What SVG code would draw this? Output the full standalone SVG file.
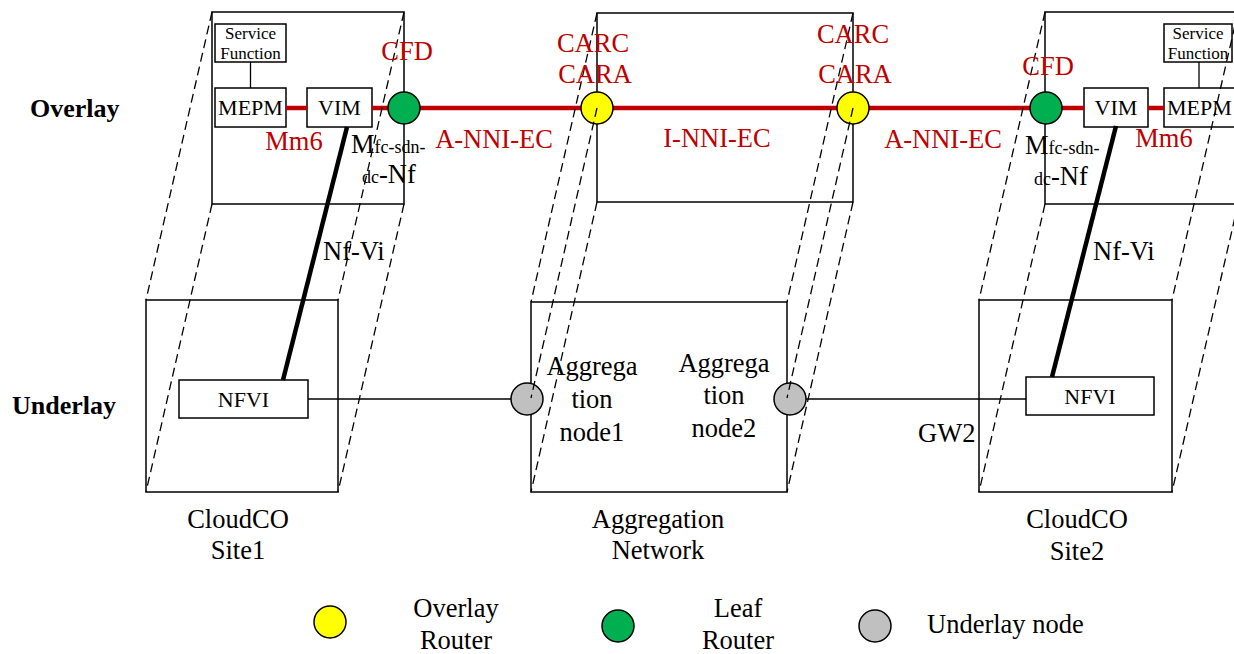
<svg xmlns="http://www.w3.org/2000/svg" width="1234" height="654" viewBox="0 0 1234 654">
<style>
  text { font-family: "Liberation Serif", "Times New Roman", serif; fill: #000; }
  .box { fill: none; stroke: #000; stroke-width: 1.5; }
  .ibox { fill: #fff; stroke: #000; stroke-width: 1.5; }
  .dash { fill: none; stroke: #000; stroke-width: 1.3; stroke-dasharray: 9 5; }
  .red { stroke: #C00000; stroke-width: 4.5; fill: none; }
  .thin { stroke: #000; stroke-width: 1.3; fill: none; }
  .thick { stroke: #000; stroke-width: 4.5; fill: none; }
  .big { font-size: 26.5px; }
  .mid { font-size: 22px; }
  .sm { font-size: 17px; }
  .sub { font-size: 18px; }
  .rtxt { fill: #C00000; font-size: 26.5px; }
  .bold { font-size: 26px; font-weight: bold; }
  .yel { fill: #FFFF00; stroke: #000; stroke-width: 1.5; }
  .grn { fill: #00B050; stroke: #000; stroke-width: 1.5; }
  .gry { fill: #C0C0C0; stroke: #000; stroke-width: 1.5; }
</style>

<text class="bold" x="30" y="117">Overlay</text>
<text class="bold" x="12" y="414">Underlay</text>

<!-- Site 1 -->
<g id="site1-overlay">
  <rect class="box" x="212" y="12" width="192" height="192"/>
</g>
<g id="site1-underlay">
  <rect class="box" x="146" y="300" width="192" height="192"/>
  <text class="big" x="238" y="528" text-anchor="middle">CloudCO</text>
  <text class="big" x="238" y="559" text-anchor="middle">Site1</text>
</g>
<g id="site1-sf">
  <rect class="ibox" x="215" y="24" width="71" height="38"/>
  <text class="sm" x="250.5" y="39" text-anchor="middle">Service</text>
  <text class="sm" x="250.5" y="59" text-anchor="middle">Function</text>
</g>
<g id="site1-mepm">
  <rect class="ibox" x="215" y="88" width="71" height="39"/>
  <text class="mid" x="250.5" y="115" text-anchor="middle">MEPM</text>
</g>
<g id="site1-vim">
  <rect class="ibox" x="307" y="88" width="65" height="39"/>
  <text class="mid" x="339.5" y="115" text-anchor="middle">VIM</text>
</g>
<g id="site1-nfvi">
  <rect class="ibox" x="179" y="380" width="129" height="38"/>
  <text class="mid" x="243.5" y="407" text-anchor="middle">NFVI</text>
</g>

<!-- Aggregation network -->
<g id="agg-overlay">
  <rect class="box" x="597" y="13" width="256" height="189"/>
</g>
<g id="agg-underlay">
  <rect class="box" x="531" y="302" width="256" height="190"/>
  <text class="big" x="658" y="528" text-anchor="middle">Aggregation</text>
  <text class="big" x="658" y="559" text-anchor="middle">Network</text>
</g>
<g id="agg-node1">
  <text class="big" x="592" y="375" text-anchor="middle">Aggrega</text>
  <text class="big" x="592" y="408" text-anchor="middle">tion</text>
  <text class="big" x="592" y="441" text-anchor="middle">node1</text>
</g>
<g id="agg-node2">
  <text class="big" x="724" y="372" text-anchor="middle">Aggrega</text>
  <text class="big" x="724" y="404" text-anchor="middle">tion</text>
  <text class="big" x="724" y="437" text-anchor="middle">node2</text>
</g>

<!-- Site 2 -->
<g id="site2-overlay">
  <rect class="box" x="1045" y="12" width="193" height="192"/>
</g>
<g id="site2-underlay">
  <rect class="box" x="979" y="300" width="193" height="192"/>
  <text class="big" x="1077" y="528" text-anchor="middle">CloudCO</text>
  <text class="big" x="1077" y="560" text-anchor="middle">Site2</text>
</g>
<g id="site2-sf">
  <rect class="ibox" x="1164" y="24" width="68" height="38"/>
  <text class="sm" x="1198" y="39" text-anchor="middle">Service</text>
  <text class="sm" x="1198" y="59" text-anchor="middle">Function</text>
</g>
<g id="site2-mepm">
  <rect class="ibox" x="1164" y="88" width="76" height="39"/>
  <text class="mid" x="1164" y="115" dx="3">MEPM</text>
</g>
<g id="site2-vim">
  <rect class="ibox" x="1084" y="88" width="64" height="39"/>
  <text class="mid" x="1116" y="115" text-anchor="middle">VIM</text>
</g>
<g id="site2-nfvi">
  <rect class="ibox" x="1026" y="377" width="128" height="38"/>
  <text class="mid" x="1090" y="404" text-anchor="middle">NFVI</text>
</g>
<text class="big" x="918" y="442">GW2</text>

<!-- Connectors -->
<g id="connectors">
  <line class="thin" x1="250.5" y1="62" x2="250.5" y2="88"/>
  <line class="thin" x1="1199" y1="62" x2="1199" y2="88"/>
  <line class="red" x1="286" y1="108" x2="307" y2="108"/>
  <line class="red" x1="372" y1="108" x2="1084" y2="108"/>
  <line class="red" x1="1148" y1="108" x2="1164" y2="108"/>
  <line class="thick" x1="347" y1="127" x2="283" y2="380"/>
  <line class="thick" x1="1116" y1="126" x2="1052" y2="377"/>
  <line class="thin" x1="308" y1="399" x2="511" y2="399"/>
  <line class="thin" x1="806" y1="399" x2="1026" y2="399"/>
</g>

<!-- Router / node circles -->
<g id="leaf-router-1"><circle class="grn" cx="404" cy="108" r="16"/></g>
<g id="overlay-router-1"><circle class="yel" cx="597" cy="108" r="16"/></g>
<g id="overlay-router-2"><circle class="yel" cx="853" cy="108" r="16"/></g>
<g id="leaf-router-2"><circle class="grn" cx="1046" cy="108" r="16"/></g>
<g id="underlay-node-1"><circle class="gry" cx="527" cy="399" r="16"/></g>
<g id="underlay-node-2"><circle class="gry" cx="790" cy="399" r="16"/></g>

<!-- Dashed projection lines -->
<g id="projection-lines">
  <line class="dash" x1="212" y1="12" x2="146" y2="300"/>
  <line class="dash" x1="212" y1="204" x2="146" y2="492"/>
  <line class="dash" x1="404" y1="12" x2="338" y2="300"/>
  <line class="dash" x1="404" y1="204" x2="338" y2="492"/>
  <line class="dash" x1="597" y1="13" x2="531" y2="302"/>
  <line class="dash" x1="597" y1="108" x2="531" y2="398"/>
  <line class="dash" x1="597" y1="202" x2="531" y2="492"/>
  <line class="dash" x1="853" y1="13" x2="787" y2="302"/>
  <line class="dash" x1="853" y1="108" x2="787" y2="398"/>
  <line class="dash" x1="853" y1="202" x2="787" y2="492"/>
  <line class="dash" x1="1045" y1="12" x2="979" y2="300"/>
  <line class="dash" x1="1045" y1="204" x2="979" y2="492"/>
  <line class="dash" x1="1238" y1="12" x2="1172" y2="300"/>
  <line class="dash" x1="1238" y1="204" x2="1172" y2="492"/>
</g>

<!-- Labels -->
<g id="labels">
  <text class="rtxt" x="407" y="60" text-anchor="middle">CFD</text>
  <text class="rtxt" x="1048" y="75" text-anchor="middle">CFD</text>
  <text class="rtxt" x="593" y="52" text-anchor="middle">CARC</text>
  <text class="rtxt" x="595" y="83" text-anchor="middle">CARA</text>
  <text class="rtxt" x="853" y="43" text-anchor="middle">CARC</text>
  <text class="rtxt" x="855" y="83" text-anchor="middle">CARA</text>
  <text class="rtxt" x="294" y="150" text-anchor="middle">Mm6</text>
  <text class="rtxt" x="1164" y="147" text-anchor="middle">Mm6</text>
  <text class="rtxt" x="494" y="148" text-anchor="middle">A-NNI-EC</text>
  <text class="rtxt" x="717" y="147" text-anchor="middle">I-NNI-EC</text>
  <text class="rtxt" x="943" y="148" text-anchor="middle">A-NNI-EC</text>
  <text class="big" x="351" y="153">M<tspan class="sub">fc-sdn-</tspan></text>
  <text class="big" x="362" y="183"><tspan class="sub">dc</tspan>-Nf</text>
  <text class="big" x="1025" y="154">M<tspan class="sub">fc-sdn-</tspan></text>
  <text class="big" x="1034" y="185"><tspan class="sub">dc</tspan>-Nf</text>
  <text class="big" x="323" y="260">Nf-Vi</text>
  <text class="big" x="1093" y="260">Nf-Vi</text>
</g>

<!-- Legend -->
<g id="legend-overlay-router">
  <circle class="yel" cx="330" cy="622" r="16"/>
  <text class="big" x="456" y="617" text-anchor="middle">Overlay</text>
  <text class="big" x="456" y="649" text-anchor="middle">Router</text>
</g>
<g id="legend-leaf-router">
  <circle class="grn" cx="618" cy="626" r="16"/>
  <text class="big" x="738" y="617" text-anchor="middle">Leaf</text>
  <text class="big" x="738" y="649" text-anchor="middle">Router</text>
</g>
<g id="legend-underlay-node">
  <circle class="gry" cx="875" cy="626" r="16"/>
  <text class="big" x="927" y="633">Underlay node</text>
</g>
</svg>
